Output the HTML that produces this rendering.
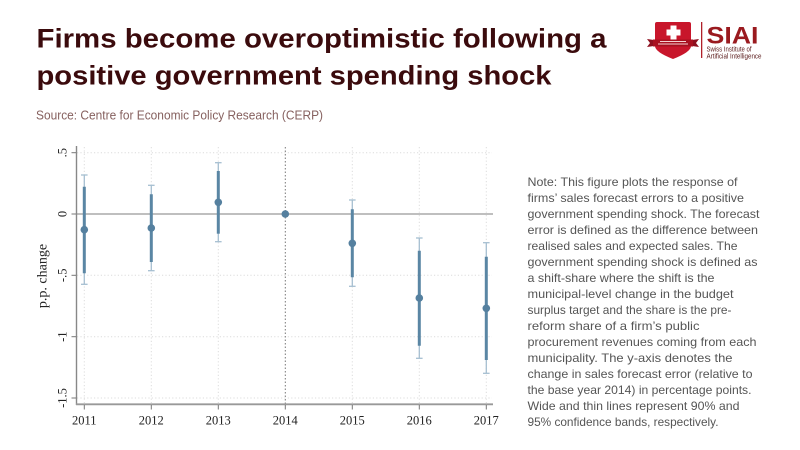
<!DOCTYPE html>
<html>
<head>
<meta charset="utf-8">
<style>
html,body{margin:0;padding:0;background:#fff;}
svg{display:block;}
</style>
</head>
<body>
<svg width="800" height="450" viewBox="0 0 800 450" xmlns="http://www.w3.org/2000/svg">
<rect width="800" height="450" fill="#ffffff"/>

<!-- Title -->
<g font-family="'Liberation Sans', sans-serif" font-weight="bold" fill="#3b0b0d" font-size="27">
<text x="36.5" y="47.5" textLength="570" lengthAdjust="spacingAndGlyphs">Firms become overoptimistic following a</text>
<text x="36.5" y="84.5" textLength="515" lengthAdjust="spacingAndGlyphs">positive government spending shock</text>
</g>
<text x="36" y="119.5" font-family="'Liberation Sans', sans-serif" font-size="13" fill="#86615f" textLength="287" lengthAdjust="spacingAndGlyphs">Source: Centre for Economic Policy Research (CERP)</text>

<!-- Logo -->
<g>
<path d="M655,24 Q655,22 657,22 L689,22 Q691,22 691,24 L691,46 Q691,52 673,59 Q655,52 655,46 Z" fill="#c8162b"/>
<rect x="670.5" y="25.5" width="6" height="14" fill="#fff"/>
<rect x="666.5" y="29.5" width="14" height="6" fill="#fff"/>
<path d="M647,39 L654,40 L654,46 L647,47 L650,43 Z" fill="#8e0f1e"/>
<path d="M699,39 L692,40 L692,46 L699,47 L696,43 Z" fill="#8e0f1e"/>
<rect x="653" y="39.5" width="40" height="7" fill="#a8101f"/>
<rect x="660" y="41" width="26" height="1" fill="#f3d0d0"/>
<rect x="658" y="43.5" width="30" height="1" fill="#f3d0d0"/>
<rect x="701" y="22" width="1.3" height="36" fill="#b0202a"/>
<text x="706.5" y="43.3" font-family="'Liberation Sans', sans-serif" font-weight="bold" font-size="24" fill="#9a1a1f" textLength="52" lengthAdjust="spacingAndGlyphs">SIAI</text>
<text x="706.5" y="51.5" font-family="'Liberation Sans', sans-serif" font-size="7" fill="#5a1a1a" textLength="45" lengthAdjust="spacingAndGlyphs">Swiss Institute of</text>
<text x="706.5" y="58.5" font-family="'Liberation Sans', sans-serif" font-size="7" fill="#5a1a1a" textLength="55" lengthAdjust="spacingAndGlyphs">Artificial Intelligence</text>
</g>

<!-- Grid -->
<g stroke="#dcdcdc" stroke-width="1" stroke-dasharray="1.2 2.2" fill="none">
<line x1="77" y1="152.7" x2="492" y2="152.7"/>
<line x1="77" y1="275.3" x2="492" y2="275.3"/>
<line x1="77" y1="336.7" x2="492" y2="336.7"/>
<line x1="77" y1="398" x2="492" y2="398"/>
<line x1="84.3" y1="147" x2="84.3" y2="403"/>
<line x1="151.3" y1="147" x2="151.3" y2="403"/>
<line x1="218.3" y1="147" x2="218.3" y2="403"/>
<line x1="352.3" y1="147" x2="352.3" y2="403"/>
<line x1="419.3" y1="147" x2="419.3" y2="403"/>
<line x1="486.3" y1="147" x2="486.3" y2="403"/>
</g>
<!-- 2014 reference line -->
<line x1="285.3" y1="147" x2="285.3" y2="404" stroke="#777" stroke-width="1" stroke-dasharray="1.5 2"/>
<!-- zero line -->
<line x1="77" y1="214" x2="493" y2="214" stroke="#999" stroke-width="1.2"/>

<!-- Axes -->
<line x1="76.5" y1="146" x2="76.5" y2="405" stroke="#888" stroke-width="1.4"/>
<line x1="76" y1="404.3" x2="493" y2="404.3" stroke="#999" stroke-width="1.8"/>
<g stroke="#777" stroke-width="1">
<line x1="71.5" y1="152.7" x2="76" y2="152.7"/>
<line x1="71.5" y1="214" x2="76" y2="214"/>
<line x1="71.5" y1="275.3" x2="76" y2="275.3"/>
<line x1="71.5" y1="336.7" x2="76" y2="336.7"/>
<line x1="71.5" y1="398" x2="76" y2="398"/>
<line x1="84.3" y1="405" x2="84.3" y2="409.5"/>
<line x1="151.3" y1="405" x2="151.3" y2="409.5"/>
<line x1="218.3" y1="405" x2="218.3" y2="409.5"/>
<line x1="285.3" y1="405" x2="285.3" y2="409.5"/>
<line x1="352.3" y1="405" x2="352.3" y2="409.5"/>
<line x1="419.3" y1="405" x2="419.3" y2="409.5"/>
<line x1="486.3" y1="405" x2="486.3" y2="409.5"/>
</g>

<!-- Tick labels -->
<g font-family="'Liberation Serif', serif" font-size="12.5" fill="#222" text-anchor="middle">
<text x="84.3" y="424.5">2011</text>
<text x="151.3" y="424.5">2012</text>
<text x="218.3" y="424.5">2013</text>
<text x="285.3" y="424.5">2014</text>
<text x="352.3" y="424.5">2015</text>
<text x="419.3" y="424.5">2016</text>
<text x="486.3" y="424.5">2017</text>
<text transform="translate(66.5,152.7) rotate(-90)">.5</text>
<text transform="translate(66.5,214) rotate(-90)">0</text>
<text transform="translate(66.5,275.3) rotate(-90)">-.5</text>
<text transform="translate(66.5,336.7) rotate(-90)">-1</text>
<text transform="translate(66.5,398) rotate(-90)">-1.5</text>
<text transform="translate(46.5,276) rotate(-90)" font-size="14">p.p. change</text>
</g>

<!-- 95% CI thin bars -->
<g stroke="#a6bfd1" stroke-width="1.3" fill="none">
<line x1="84.3" y1="175" x2="84.3" y2="284.3"/><line x1="81" y1="175" x2="87.6" y2="175"/><line x1="81" y1="284.3" x2="87.6" y2="284.3"/>
<line x1="151.3" y1="185.3" x2="151.3" y2="270.7"/><line x1="148" y1="185.3" x2="154.6" y2="185.3"/><line x1="148" y1="270.7" x2="154.6" y2="270.7"/>
<line x1="218.3" y1="162.7" x2="218.3" y2="241.7"/><line x1="215" y1="162.7" x2="221.6" y2="162.7"/><line x1="215" y1="241.7" x2="221.6" y2="241.7"/>
<line x1="352.3" y1="200" x2="352.3" y2="286.3"/><line x1="349" y1="200" x2="355.6" y2="200"/><line x1="349" y1="286.3" x2="355.6" y2="286.3"/>
<line x1="419.3" y1="238" x2="419.3" y2="358.3"/><line x1="416" y1="238" x2="422.6" y2="238"/><line x1="416" y1="358.3" x2="422.6" y2="358.3"/>
<line x1="486.3" y1="242.7" x2="486.3" y2="373.3"/><line x1="483" y1="242.7" x2="489.6" y2="242.7"/><line x1="483" y1="373.3" x2="489.6" y2="373.3"/>
</g>
<!-- 90% CI thick bars -->
<g stroke="#5a86a4" stroke-width="3" fill="none">
<line x1="84.3" y1="186.7" x2="84.3" y2="273.3"/>
<line x1="151.3" y1="194.3" x2="151.3" y2="262"/>
<line x1="218.3" y1="171" x2="218.3" y2="233.7"/>
<line x1="352.3" y1="209.3" x2="352.3" y2="277.3"/>
<line x1="419.3" y1="250.7" x2="419.3" y2="345.7"/>
<line x1="486.3" y1="256.7" x2="486.3" y2="360"/>
</g>
<!-- Points -->
<g fill="#55809f">
<circle cx="84.3" cy="229.7" r="3.8"/>
<circle cx="151.3" cy="228" r="3.8"/>
<circle cx="218.3" cy="202.3" r="3.8"/>
<circle cx="285.3" cy="214" r="3.8"/>
<circle cx="352.3" cy="243.3" r="3.8"/>
<circle cx="419.3" cy="298" r="3.8"/>
<circle cx="486.3" cy="308.3" r="3.8"/>
</g>

<!-- Note -->
<g font-family="'Liberation Sans', sans-serif" font-size="12" fill="#555" lengthAdjust="spacingAndGlyphs">
<text x="527.5" y="186" textLength="210" lengthAdjust="spacingAndGlyphs">Note: This figure plots the response of</text>
<text x="527.5" y="202" textLength="216.5" lengthAdjust="spacingAndGlyphs">firms’ sales forecast errors to a positive</text>
<text x="527.5" y="218" textLength="232" lengthAdjust="spacingAndGlyphs">government spending shock. The forecast</text>
<text x="527.5" y="234" textLength="230.5" lengthAdjust="spacingAndGlyphs">error is defined as the difference between</text>
<text x="527.5" y="250" textLength="210" lengthAdjust="spacingAndGlyphs">realised sales and expected sales. The</text>
<text x="527.5" y="266" textLength="230" lengthAdjust="spacingAndGlyphs">government spending shock is defined as</text>
<text x="527.5" y="282" textLength="187" lengthAdjust="spacingAndGlyphs">a shift-share where the shift is the</text>
<text x="527.5" y="298" textLength="206" lengthAdjust="spacingAndGlyphs">municipal-level change in the budget</text>
<text x="527.5" y="314" textLength="204" lengthAdjust="spacingAndGlyphs">surplus target and the share is the pre-</text>
<text x="527.5" y="330" textLength="172" lengthAdjust="spacingAndGlyphs">reform share of a firm’s public</text>
<text x="527.5" y="346" textLength="229" lengthAdjust="spacingAndGlyphs">procurement revenues coming from each</text>
<text x="527.5" y="362" textLength="205" lengthAdjust="spacingAndGlyphs">municipality. The y-axis denotes the</text>
<text x="527.5" y="378" textLength="225" lengthAdjust="spacingAndGlyphs">change in sales forecast error (relative to</text>
<text x="527.5" y="394" textLength="224" lengthAdjust="spacingAndGlyphs">the base year 2014) in percentage points.</text>
<text x="527.5" y="410" textLength="212" lengthAdjust="spacingAndGlyphs">Wide and thin lines represent 90% and</text>
<text x="527.5" y="426" textLength="191" lengthAdjust="spacingAndGlyphs">95% confidence bands, respectively.</text>
</g>
</svg>
</body>
</html>
